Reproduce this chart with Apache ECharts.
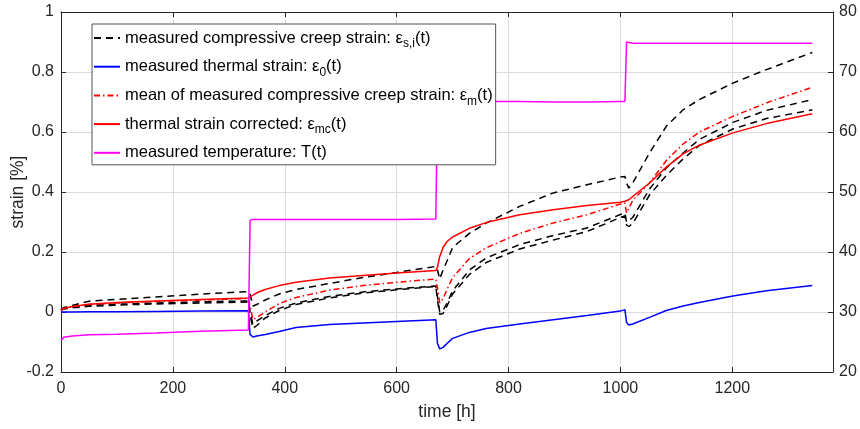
<!DOCTYPE html>
<html>
<head>
<meta charset="UTF-8">
<title>creep strain</title>
<script type="text/javascript" src="https://cdn.jsdelivr.net/npm/echarts@6/dist/echarts.min.js"></script>
<style>
	html, body { margin: 0; padding: 0; background: #fff; }
	#main { width: 860px; height: 429px; }
</style>
</head>
<body>
<div id="main"></div>
<script type="text/javascript">
// time axis shared by all curves [h]
var hours = [0, 5, 20, 50, 100, 170, 250, 335, 338, 343, 350, 365, 390, 420, 480, 540, 600, 670,
	673, 677, 683, 690, 700, 730, 760, 820, 880, 940, 1000, 1008,
	1011, 1015, 1022, 1052, 1082, 1112, 1141, 1201, 1261, 1343];

// measured compressive creep strain, three specimens [%]
var creepA = [0.008, 0.015, 0.022, 0.036, 0.042, 0.050, 0.060, 0.068, 0.060, 0.020, 0.025, 0.040, 0.060, 0.075, 0.095, 0.115, 0.132, 0.152,
	0.140, 0.110, 0.140, 0.170, 0.215, 0.262, 0.296, 0.352, 0.397, 0.424, 0.450, 0.452,
	0.430, 0.413, 0.430, 0.530, 0.619, 0.674, 0.708, 0.763, 0.808, 0.865];
var creepB = [0.008, 0.012, 0.016, 0.022, 0.026, 0.030, 0.034, 0.037, 0.000, -0.040, -0.030, -0.012, 0.012, 0.030, 0.052, 0.067, 0.077, 0.087,
	0.050, 0.000, 0.005, 0.030, 0.070, 0.140, 0.180, 0.225, 0.255, 0.280, 0.325, 0.330,
	0.300, 0.305, 0.315, 0.410, 0.480, 0.530, 0.575, 0.632, 0.672, 0.708];
var creepC = [0.006, 0.010, 0.014, 0.019, 0.023, 0.027, 0.030, 0.033, -0.010, -0.055, -0.045, -0.020, 0.005, 0.025, 0.047, 0.063, 0.074, 0.085,
	0.040, -0.008, -0.005, 0.020, 0.060, 0.125, 0.165, 0.210, 0.240, 0.268, 0.315, 0.320,
	0.290, 0.285, 0.295, 0.390, 0.455, 0.510, 0.555, 0.610, 0.645, 0.674];

// measured thermal strain [%]
var thermal = [0.000, 0.000, 0.000, 0.001, 0.001, 0.002, 0.003, 0.004, -0.075, -0.083, -0.080, -0.075, -0.065, -0.052, -0.042, -0.037, -0.032, -0.026,
	-0.105, -0.123, -0.118, -0.105, -0.088, -0.068, -0.055, -0.040, -0.026, -0.012, 0.003, 0.008,
	-0.035, -0.043, -0.040, -0.018, 0.005, 0.020, 0.032, 0.053, 0.071, 0.088];

// mean of measured creep strain [%]
var meanCreep = [0.005, 0.012, 0.018, 0.025, 0.030, 0.035, 0.040, 0.045, 0.020, -0.025, -0.018, 0.000, 0.028, 0.048, 0.073, 0.088, 0.099, 0.110,
	0.080, 0.030, 0.045, 0.075, 0.115, 0.178, 0.214, 0.262, 0.297, 0.324, 0.360, 0.363,
	0.330, 0.345, 0.372, 0.430, 0.505, 0.560, 0.600, 0.652, 0.697, 0.749];

// thermal strain corrected [%]
var corrected = [0.005, 0.012, 0.018, 0.026, 0.032, 0.037, 0.042, 0.047, 0.048, 0.056, 0.064, 0.075, 0.088, 0.099, 0.113, 0.122, 0.130, 0.138,
	0.150, 0.185, 0.215, 0.235, 0.250, 0.279, 0.298, 0.324, 0.341, 0.355, 0.366, 0.369,
	0.370, 0.374, 0.385, 0.430, 0.483, 0.527, 0.556, 0.597, 0.628, 0.661];

// measured temperature [°C]
var temperature = [25.2, 25.8, 26.0, 26.2, 26.3, 26.5, 26.8, 27.0, 45.3, 45.4, 45.4, 45.4, 45.4, 45.4, 45.4, 45.4, 45.4, 45.5,
	65.1, 65.1, 65.1, 65.1, 65.1, 65.1, 65.1, 65.1, 65.0, 65.0, 65.1, 65.1,
	75.0, 74.9, 74.8, 74.8, 74.8, 74.8, 74.8, 74.8, 74.8, 74.8];

var xTicks = { min: 0, max: 1380, step: 200 };
var leftTicks = { min: -0.2, max: 1, step: 0.2 };
var rightTicks = { min: 20, max: 80, step: 10 };

function pairs(vals) {
	return hours.map(function (h, i) { return [h, vals[i]]; });
}

var font = 'Liberation Sans, Arial, sans-serif';
var axisColor = '#262626';

// legend labels with subscripts (rich text)
var legendText = {
	'creep': '{n|measured compressive creep strain: ε}{s|s,i}{n|(t)}',
	'thermal': '{n|measured thermal strain: ε}{s|0}{n|(t)}',
	'mean': '{n|mean of measured compressive creep strain: ε}{s|m}{n|(t)}',
	'corrected': '{n|thermal strain corrected: ε}{s|mc}{n|(t)}',
	'temp': '{n|measured temperature: T(t)}'
};

function lineSeries(name, vals, color, type, yIdx) {
	return {
		name: name,
		type: 'line',
		data: pairs(vals),
		yAxisIndex: yIdx || 0,
		symbol: 'none',
		showSymbol: false,
		lineStyle: { color: color, width: 1.5, type: type },
		itemStyle: { color: color }
	};
}

function plain(v) {
	return String(Math.round(v * 10) / 10);
}

var myChart = echarts.init(document.getElementById('main'));

var option = {
	animation: false,
	backgroundColor: '#fff',
	textStyle: { fontFamily: font },
	grid: { left: 61, right: 27, top: 12, bottom: 57, outerBoundsMode: 'none', containLabel: false },
	legend: {
		orient: 'vertical',
		left: 92,
		top: 24,
		data: ['creep', 'thermal', 'mean', 'corrected', 'temp'],
		itemWidth: 26,
		itemHeight: 14,
		itemGap: 4.7,
		padding: [2, 3, 0, 1],
		backgroundColor: '#fff',
		borderColor: '#555',
		borderWidth: 1,
		itemStyle: { opacity: 0 },
		formatter: function (name) { return legendText[name]; },
		textStyle: {
			color: '#000',
			fontFamily: font,
			fontSize: 16.5,
			lineHeight: 24,
			rich: {
				n: { fontSize: 16.5, fontFamily: font, color: '#000', lineHeight: 24 },
				s: { fontSize: 12, fontFamily: font, color: '#000', lineHeight: 12, padding: [12, 0, 0, 0] }
			}
		}
	},
	xAxis: [
		{
			type: 'value',
			position: 'bottom',
			min: xTicks.min, max: xTicks.max, interval: xTicks.step,
			name: 'time [h]',
			nameLocation: 'middle',
			nameGap: 31,
			nameMoveOverlap: false,
			nameTextStyle: { fontSize: 17.5, color: axisColor, fontFamily: font },
			axisLine: { show: true, onZero: false, lineStyle: { color: axisColor, width: 1 } },
			axisTick: { show: true, inside: true, length: 5, lineStyle: { color: axisColor } },
			axisLabel: { fontSize: 16, color: axisColor, margin: 9, showMaxLabel: false, fontFamily: font, formatter: plain },
			splitLine: { show: true, lineStyle: { color: '#dcdcdc', width: 1 } }
		},
		{
			type: 'value',
			position: 'top',
			min: xTicks.min, max: xTicks.max, interval: xTicks.step,
			axisLine: { show: true, onZero: false, lineStyle: { color: axisColor, width: 1 } },
			axisTick: { show: true, inside: true, length: 5, lineStyle: { color: axisColor } },
			axisLabel: { show: false },
			splitLine: { show: false }
		}
	],
	yAxis: [
		{
			type: 'value',
			position: 'left',
			min: leftTicks.min, max: leftTicks.max, interval: leftTicks.step,
			name: 'strain [%]',
			nameLocation: 'middle',
			nameGap: 34,
			nameMoveOverlap: false,
			nameTextStyle: { fontSize: 17.5, color: axisColor, fontFamily: font },
			axisLine: { show: true, onZero: false, lineStyle: { color: axisColor, width: 1 } },
			axisTick: { show: true, inside: true, length: 5, lineStyle: { color: axisColor } },
			axisLabel: { fontSize: 16, color: axisColor, margin: 7, fontFamily: font, formatter: plain },
			splitLine: { show: true, lineStyle: { color: '#dcdcdc', width: 1 } }
		},
		{
			type: 'value',
			position: 'right',
			min: rightTicks.min, max: rightTicks.max, interval: rightTicks.step,
			axisLine: { show: true, onZero: false, lineStyle: { color: axisColor, width: 1 } },
			axisTick: { show: true, inside: true, length: 5, lineStyle: { color: axisColor } },
			axisLabel: { fontSize: 16, color: axisColor, margin: 6, fontFamily: font, formatter: plain },
			splitLine: { show: false }
		}
	],
	series: [
		lineSeries('creep', creepA, '#000000', [7, 5]),
		lineSeries('creep', creepB, '#000000', [7, 5]),
		lineSeries('creep', creepC, '#000000', [7, 5]),
		lineSeries('thermal', thermal, '#0000ff', 'solid'),
		lineSeries('mean', meanCreep, '#ff0000', [6, 3, 1.5, 3]),
		lineSeries('corrected', corrected, '#ff0000', 'solid'),
		lineSeries('temp', temperature, '#ff00ff', 'solid', 1)
	]
};

myChart.setOption(option);
window.onresize = myChart.resize;
</script>
</body>
</html>
